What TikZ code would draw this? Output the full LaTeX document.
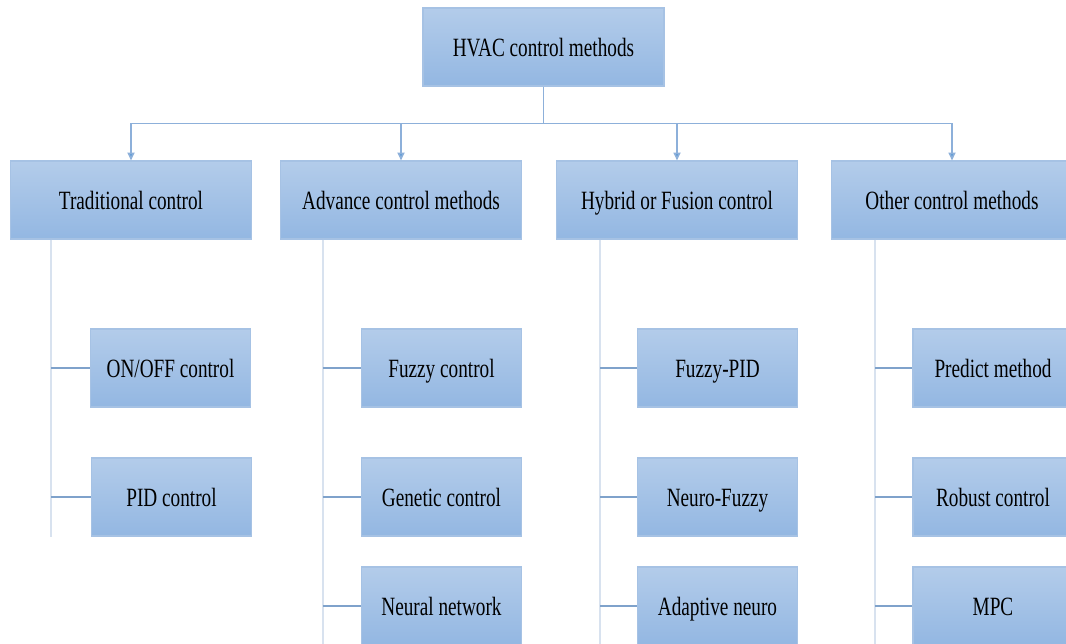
\documentclass[tikz,border=0pt]{standalone}
\usepackage{fontspec}
\setmainfont[FakeStretch=0.73]{Liberation Serif}
\usetikzlibrary{arrows.meta,shadings}

\definecolor{boxtop}{HTML}{B3CCEA}
\definecolor{boxbot}{HTML}{93B7E2}
\definecolor{boxline}{HTML}{A6C2E4}
\definecolor{busline}{HTML}{8DB0DA}
\definecolor{tipblue}{HTML}{5B9BD5}
\definecolor{trunkline}{HTML}{D8E2EF}
\definecolor{stubline}{HTML}{7FA2CB}

\tikzset{
  method/.style={rectangle, draw=boxline, line width=0.6pt, top color=boxtop,
    bottom color=boxbot, minimum width=4.82cm, minimum height=1.56cm,
    inner sep=0pt, text height=12pt, text depth=1.3pt,
    font=\fontsize{15}{18}\selectfont},
  submethod/.style={method, minimum width=3.2cm},
  bus/.style={draw=busline, line width=0.9pt},
  trunk/.style={draw=trunkline, line width=1.1pt},
  stub/.style={draw=stubline, line width=0.8pt}
}

\begin{document}
\begin{tikzpicture}[x=0.02cm, y=-0.02cm]
  \useasboundingbox (0,0) rectangle (1066,644);
  \clip (0,0) rectangle (1066,644);

  % root and the four groups
  \node[method] (hvac) at (543.5,47)  {HVAC control methods};
  \node[method] (trad) at (131,200)   {Traditional control};
  \node[method] (adv)  at (401,200)   {Advance control methods};
  \node[method] (hyb)  at (677,200)   {Hybrid or Fusion control};
  \node[method] (oth)  at (952,200)   {Other control methods};

  % methods of each group
  \node[submethod] (onoff)   at (170.5,368) {ON/OFF control};
  \node[submethod] (pid)     at (171.5,497) {PID control};

  \node[submethod] (fuzzy)   at (441.5,368) {Fuzzy control};
  \node[submethod] (genetic) at (441.5,497) {Genetic control};
  \node[submethod] (neural)  at (441.5,606) {Neural network};

  \node[submethod] (fpid)    at (717.5,368) {Fuzzy-PID};
  \node[submethod] (nfuzzy)  at (717.5,497) {Neuro-Fuzzy};
  \node[submethod] (aneuro)  at (717.5,606) {Adaptive neuro};

  \node[submethod] (predict) at (993,368)   {Predict method};
  \node[submethod] (robust)  at (993,497)   {Robust control};
  \node[submethod] (mpc)     at (993,606)   {MPC};

  % root to groups
  \draw[bus] (hvac.south) -- ++(0,37) coordinate (j);
  \foreach \g in {trad,adv,hyb,oth}
    \draw[bus, -{Triangle[width=4pt,length=4.5pt,fill=tipblue]}] (j) -| (\g.north);

  % group trunks
  \draw[trunk] (trad.south west) ++(41,0) coordinate (t0) -- ++(0,297);
  \draw[trunk] (adv.south west)  ++(43,0) coordinate (a0) -- ++(0,430);
  \draw[trunk] (hyb.south west)  ++(44,0) coordinate (h0) -- ++(0,430);
  \draw[trunk] (oth.south west)  ++(44,0) coordinate (o0) -- ++(0,430);

  % stubs
  \foreach \m in {onoff,pid}
    \draw[stub] (t0 |- \m) -- (\m.west);
  \foreach \m in {fuzzy,genetic,neural}
    \draw[stub] (a0 |- \m) -- (\m.west);
  \foreach \m in {fpid,nfuzzy,aneuro}
    \draw[stub] (h0 |- \m) -- (\m.west);
  \foreach \m in {predict,robust,mpc}
    \draw[stub] (o0 |- \m) -- (\m.west);

\end{tikzpicture}
\end{document}
